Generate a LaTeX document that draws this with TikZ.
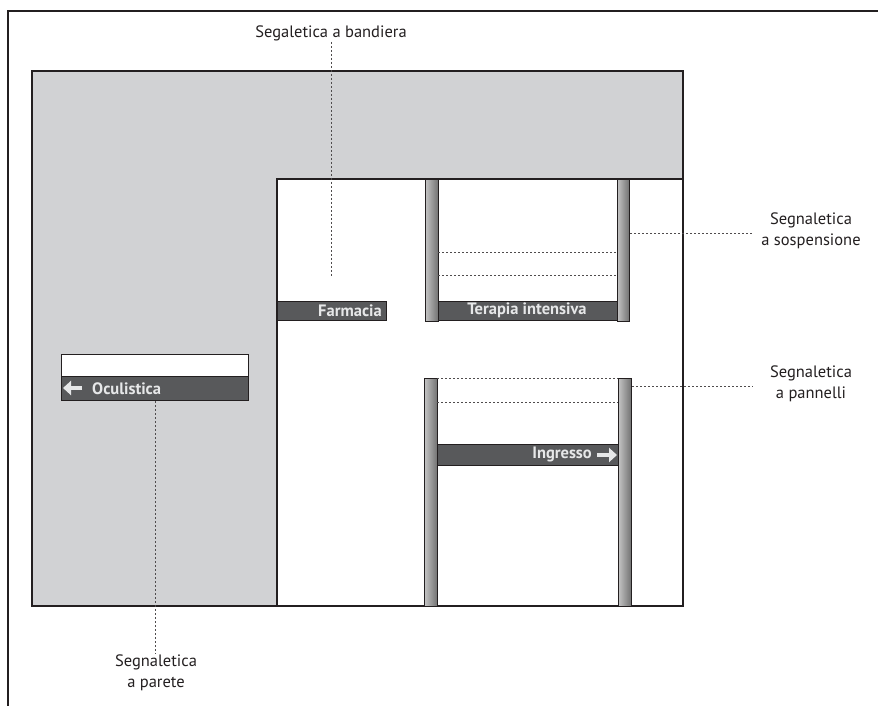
\documentclass[tikz,border=0pt]{standalone}
\usepackage{fontspec}
\setmainfont{PT Sans}
\usetikzlibrary{arrows.meta}
\definecolor{wallgray}{HTML}{D1D2D4}
\definecolor{inkdark}{HTML}{231F20}
\definecolor{signbar}{HTML}{58595B}
\definecolor{signtext}{HTML}{E6E7E8}
\tikzset{
  plan/.style={draw=inkdark, line width=1.4pt},
  pillar/.style={draw=inkdark, line width=0.6pt, left color=gray!45, middle color=gray!5, right color=black!55},
  sign/.style={fill=signbar, draw=inkdark, line width=0.7pt},
  signlabel/.style={text=signtext, font=\bfseries\fontsize{16.5}{18}\selectfont, inner sep=0pt},
  caption/.style={font=\fontsize{16.5}{21}\selectfont, align=center, inner sep=1pt, text=inkdark},
  leader/.style={draw=inkdark!80, line width=0.7pt, dash pattern=on 2pt off 2pt},
  signarrow/.style={draw=signtext, line width=4.5pt, -{Triangle[width=14pt,length=8pt]}},
}
\begin{document}
\begin{tikzpicture}[x=1pt,y=-1pt]
\useasboundingbox (0,0) rectangle (878,706);
\fill[white] (0,0) rectangle (878,706);

% outer frame, open to the right and bottom
\draw[inkdark, line width=2.6pt] (8,706) -- (8,11) -- (878,11);

% L-shaped wall section
\fill[wallgray] (32,71) rectangle (683,606);
\fill[white] (277,179) rectangle (683,606);
\draw[plan] (32,606) -- (32,71) -- (683,71) -- (683,606) -- cycle;
\draw[plan] (683,179) -- (277,179) -- (277,606);

% suspended sign
\shade[pillar] (425,179) rectangle (438,321);
\shade[pillar] (617,179) rectangle (629,321);
\draw[leader] (438,252) -- (617,252);
\draw[leader] (438,275) -- (617,275);
\draw[sign] (438,301) rectangle (617,320);
\node[signlabel] (terapia) at (527,310.5) {Terapia intensiva};

% panel sign
\shade[pillar] (424,378) rectangle (437,606);
\shade[pillar] (618,378) rectangle (631,606);
\draw[leader] (437,378) -- (618,378);
\draw[leader] (437,402) -- (618,402);
\draw[sign] (437,444) rectangle (618,465);
\node[signlabel, anchor=east] (ingresso) at (592,454.5) {Ingresso};
\coordinate (ingA) at (597,455);
\coordinate (ingB) at (617,455);
\draw[signarrow] (ingA) -- (ingB);

% flag sign
\draw[sign] (277,301) rectangle (386,320);
\node[signlabel, anchor=east] (farmacia) at (382,311) {Farmacia};

% wall sign
\draw[draw=inkdark, fill=white, line width=0.7pt] (61,354) rectangle (248,376);
\draw[sign] (61,376) rectangle (248,400);
\node[signlabel, anchor=west] (oculistica) at (92,388.5) {Oculistica};
\coordinate (ocuA) at (82,388);
\coordinate (ocuB) at (63,388);
\draw[signarrow] (ocuA) -- (ocuB);

% captions and leader lines
\node[caption] (bandiera) at (331,33) {Segaletica a bandiera};
\coordinate (bandieraEnd) at (331,276);
\draw[leader] (bandiera.south) -- (bandieraEnd);

\node[caption] (sospensione) at (811,231) {Segnaletica\\a sospensione};
\coordinate (sospStart) at (630,233);
\draw[leader] (sospStart) -- (753,233);

\node[caption] (pannelli) at (811,384) {Segnaletica\\a pannelli};
\coordinate (pannStart) at (632,386);
\draw[leader] (pannStart) -- (753,386);

\node[caption] (parete) at (156,673) {Segnaletica\\a parete};
\coordinate (pareteStart) at (155,401);
\draw[leader] (pareteStart) -- (parete.north -| pareteStart);
\end{tikzpicture}
\end{document}
